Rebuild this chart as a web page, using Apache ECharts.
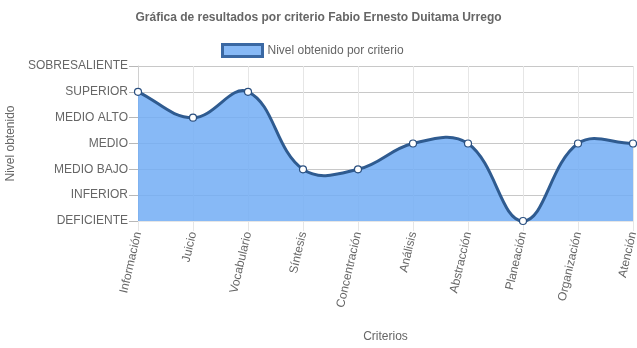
<!DOCTYPE html>
<html>
<head>
<meta charset="utf-8">
<script src="https://cdn.jsdelivr.net/npm/echarts@6/dist/echarts.min.js"></script>
<style>
html,body{margin:0;padding:0;background:#fff;}
#chart{width:637px;height:348px;}
</style>
</head>
<body>
<div id="chart"></div>
<script>
// Criteria evaluated and the level reached in each one
const criterios = ['Información', 'Juicio', 'Vocabulario', 'Síntesis', 'Concentración', 'Análisis', 'Abstracción', 'Planeación', 'Organización', 'Atención'];
const niveles = [5, 4, 5, 2, 2, 3, 3, 0, 3, 3];
// Level names, from 0 (lowest) to 6 (highest)
const nombresNivel = ['DEFICIENTE', 'INFERIOR', 'MEDIO BAJO', 'MEDIO', 'MEDIO ALTO', 'SUPERIOR', 'SOBRESALIENTE'];

const font = 'Liberation Sans, Arial, Helvetica, sans-serif';
const serieNombre = 'Nivel obtenido por criterio';
const colorArea = 'rgba(114,173,244,0.85)';
const colorLeyenda = '#87b9f6';
const colorLinea = '#2f5b90';
const tension = 0.4;

// Cardinal spline control points (tension-based), computed in pixel space
function controlPoints(pts) {
  const cps = [];
  for (let i = 0; i < pts.length; i++) {
    const prev = pts[i - 1] || pts[i];
    const cur = pts[i];
    const next = pts[i + 1] || pts[i];
    const d01 = Math.hypot(cur[0] - prev[0], cur[1] - prev[1]);
    const d12 = Math.hypot(next[0] - cur[0], next[1] - cur[1]);
    const sum = d01 + d12 || 1;
    const fa = tension * d01 / sum;
    const fb = tension * d12 / sum;
    cps.push({
      prev: [cur[0] - fa * (next[0] - prev[0]), cur[1] - fa * (next[1] - prev[1])],
      next: [cur[0] + fb * (next[0] - prev[0]), cur[1] + fb * (next[1] - prev[1])]
    });
  }
  return cps;
}

function renderCurve(params, api) {
  const pts = niveles.map((v, i) => api.coord([i, v]));
  const area = params.coordSys;
  const clampY = y => Math.max(area.y, Math.min(area.y + area.height, y));
  const cps = controlPoints(pts).map(c => ({
    prev: [c.prev[0], clampY(c.prev[1])],
    next: [c.next[0], clampY(c.next[1])]
  }));
  let d = 'M' + pts[0][0] + ',' + pts[0][1];
  for (let i = 1; i < pts.length; i++) {
    const a = cps[i - 1].next, b = cps[i].prev;
    d += ' C' + a[0] + ',' + a[1] + ' ' + b[0] + ',' + b[1] + ' ' + pts[i][0] + ',' + pts[i][1];
  }
  const baseY = api.coord([0, 0])[1];
  const areaPath = d + ' L' + pts[pts.length - 1][0] + ',' + baseY + ' L' + pts[0][0] + ',' + baseY + ' Z';
  return {
    type: 'group',
    children: [
      { type: 'path', shape: { pathData: areaPath }, style: { fill: colorArea, stroke: null } },
      { type: 'path', shape: { pathData: d }, style: { fill: null, stroke: colorLinea, lineWidth: 3 } }
    ]
  };
}

const chart = echarts.init(document.getElementById('chart'), null, { renderer: 'canvas' });

chart.setOption({
  animation: false,
  textStyle: { fontFamily: font },
  title: {
    text: 'Gráfica de resultados por criterio Fabio Ernesto Duitama Urrego',
    left: 'center',
    top: 7,
    textStyle: { fontSize: 12, fontWeight: 'bold', color: '#666', fontFamily: font }
  },
  legend: {
    top: 38,
    left: 216,
    itemWidth: 40,
    itemHeight: 12,
    itemGap: 6,
    textStyle: { fontSize: 12, color: '#666', fontFamily: font },
    data: [{
      name: serieNombre,
      icon: 'rect',
      itemStyle: { color: colorLeyenda, borderColor: '#3a68a3', borderWidth: 3 }
    }]
  },
  grid: { left: 138, right: 4, top: 66, bottom: 127, outerBoundsMode: 'none', containLabel: false },
  xAxis: {
    type: 'category',
    data: criterios,
    boundaryGap: false,
    name: 'Criterios',
    nameLocation: 'middle',
    nameGap: 110,
    nameTextStyle: { fontSize: 12, color: '#666' },
    axisLine: { show: true, lineStyle: { color: '#e6e6e6' } },
    axisTick: { show: true, length: 10, lineStyle: { color: '#e6e6e6' } },
    axisLabel: { rotate: 77, fontSize: 12, color: '#666', margin: 11, interval: 0 },
    splitLine: { show: true, lineStyle: { color: '#e6e6e6' } }
  },
  yAxis: {
    type: 'value',
    min: 0,
    max: 6,
    interval: 1,
    name: 'Nivel obtenido',
    nameLocation: 'middle',
    nameGap: 118,
    nameTextStyle: { fontSize: 12, color: '#666' },
    axisLine: { show: true, lineStyle: { color: '#d0d0d0' } },
    axisTick: { show: true, length: 9, lineStyle: { color: '#b8b8b8' } },
    axisLabel: {
      fontSize: 12, color: '#666', margin: 10,
      formatter: v => nombresNivel[v] || ''
    },
    splitLine: { show: true, lineStyle: { color: '#c8c8c8' } }
  },
  series: [
    {
      name: serieNombre,
      type: 'custom',
      data: [0],
      renderItem: renderCurve,
      silent: true,
      z: 2
    },
    {
      name: serieNombre,
      type: 'line',
      data: niveles,
      symbol: 'circle',
      symbolSize: 7,
      itemStyle: { color: '#ffffff', borderColor: '#2a4f7f', borderWidth: 1.2 },
      lineStyle: { width: 0, opacity: 0 },
      z: 3
    }
  ]
});
</script>
</body>
</html>
